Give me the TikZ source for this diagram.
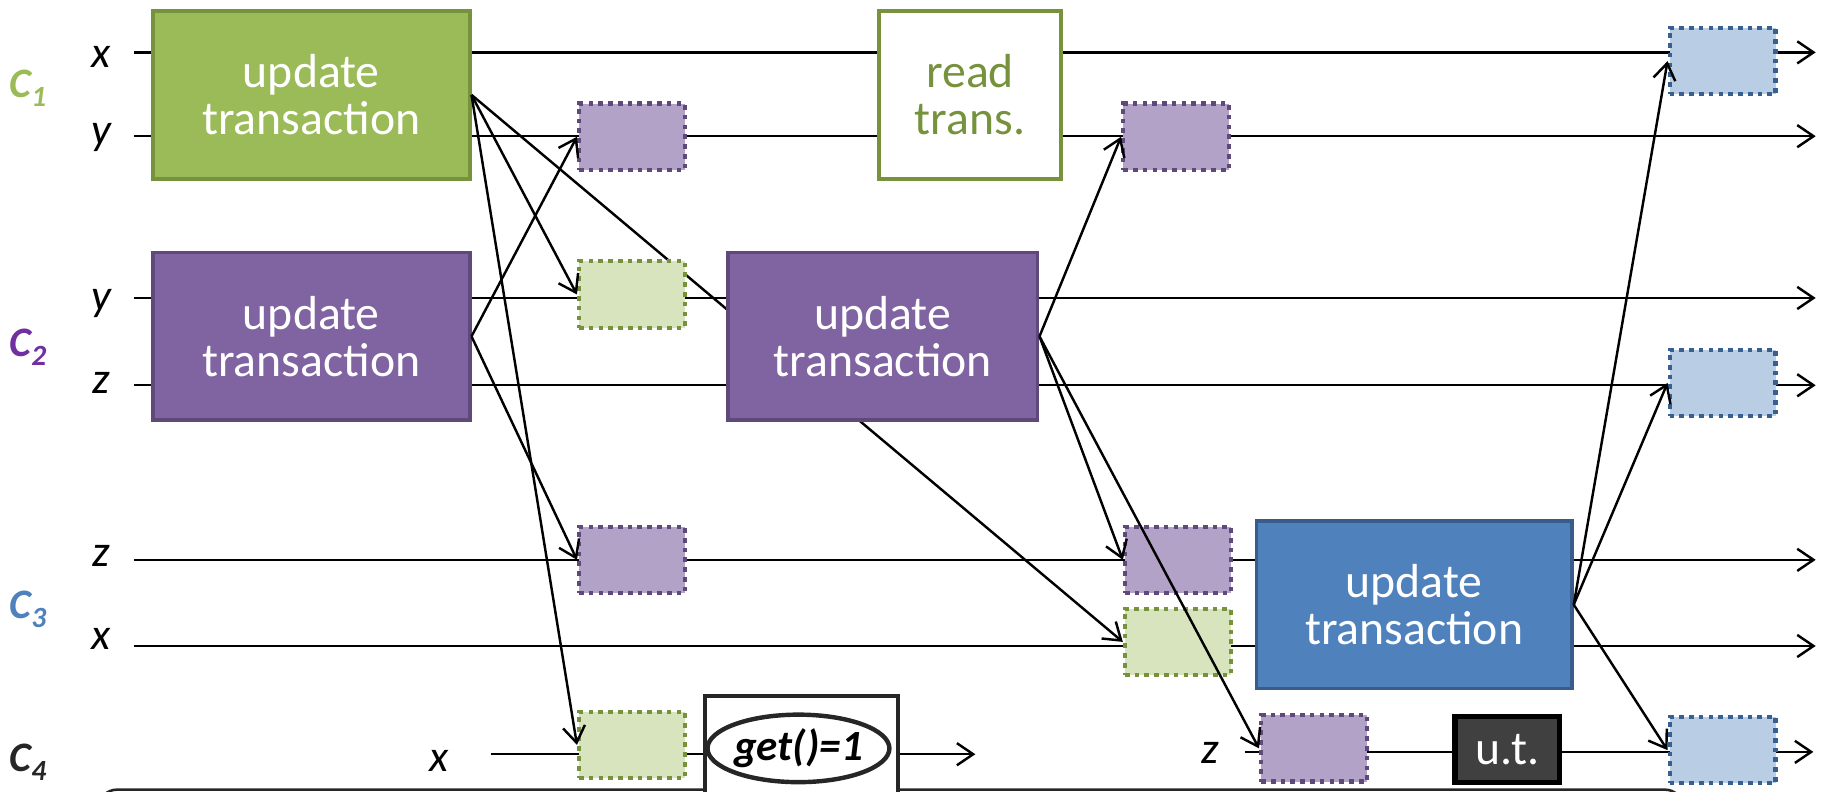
\documentclass[tikz,border=0pt]{standalone}
\usepackage{fontspec}
\setmainfont{Carlito}
\usetikzlibrary{arrows.meta,backgrounds,shapes.geometric}

\definecolor{grnfill}{HTML}{9BBB59}
\definecolor{grnline}{HTML}{76923C}
\definecolor{grnlite}{HTML}{D7E4BD}
\definecolor{purfill}{HTML}{8064A2}
\definecolor{purline}{HTML}{5F497A}
\definecolor{purlite}{HTML}{B3A2C7}
\definecolor{purlab}{HTML}{7030A0}
\definecolor{blufill}{HTML}{4F81BD}
\definecolor{bluline}{HTML}{385D8A}
\definecolor{blulite}{HTML}{B9CDE5}
\definecolor{bludot}{HTML}{376092}
\definecolor{utfill}{HTML}{404040}
\definecolor{darkln}{HTML}{262626}

\begin{document}
\begin{tikzpicture}[x=1pt,y=1pt,yscale=-1,xscale=1,
	bigbox/.style={draw,line width=3.2pt,minimum width=272pt,minimum height=144pt,inner sep=0pt,align=center,text=white,font=\fontsize{41}{40}\selectfont},
	tinybox/.style={line width=3.6pt,dash pattern=on 4pt off 4.4pt,minimum width=91pt,minimum height=57pt,inner sep=0pt},
	varlbl/.style={anchor=base,inner sep=0pt,font=\fontsize{38}{38}\selectfont\itshape},
	clbl/.style={anchor=base west,inner sep=0pt,font=\fontsize{36}{36}\selectfont\bfseries\itshape},
	msg/.style={line width=2.1pt,-{Straight Barb[length=14pt,width=19pt]}},
	]
	\useasboundingbox (0,0) rectangle (1568,680);
	
	% Text Node
	\node[clbl,text=grnfill] (lc1) at (8,84) {C\textsubscript{1}};
	\node[clbl,text=purlab] (lc2) at (8,306) {C\textsubscript{2}};
	\node[clbl,text=blufill] (lc3) at (8,531) {C\textsubscript{3}};
	\node[clbl,text=darkln] (lc4) at (8,663) {C\textsubscript{4}};
	% Text Node
	\node[varlbl] (l1x) at (87,58) {x};
	\node[varlbl] (l1y) at (87,124) {y};
	\node[varlbl] (l2y) at (87,267) {y};
	\node[varlbl] (l2z) at (87,338) {z};
	\node[varlbl] (l3z) at (87,487) {z};
	\node[varlbl] (l3x) at (87,558) {x};
	\node[varlbl] (l4x) at (377,663) {x};
	\node[varlbl] (l4z) at (1040,656) {z};
	
	%Shape: Rectangle
	\node[bigbox,fill=grnfill,draw=grnline] (upd1) at (267.5,81.5) {update\\transaction};
	\node[bigbox,fill=white,draw=grnline,text=grnline,minimum width=156pt] (rd) at (833.5,81.5) {read\\trans.};
	\node[bigbox,fill=purfill,draw=purline] (upd2) at (267.5,289) {update\\transaction};
	\node[bigbox,fill=purfill,draw=purline,minimum width=266pt] (upd3) at (758.5,289) {update\\transaction};
	\node[bigbox,fill=blufill,draw=bluline,minimum width=271pt] (upd4) at (1215,519.5) {update\\transaction};
	\node[draw=black,fill=utfill,line width=4.5pt,minimum width=90pt,minimum height=57pt,inner sep=0pt,text=white,font=\fontsize{41}{40}\selectfont] (ut) at (1295,644) {u.t.};
	
	%Shape: Rectangle (dotted)
	\node[tinybox,fill=purlite,draw=purline] (sp1) at (543,117.5) {};
	\node[tinybox,fill=grnlite,draw=grnline] (sg1) at (543,253) {};
	\node[tinybox,fill=purlite,draw=purline] (sp3) at (543,481) {};
	\node[tinybox,fill=grnlite,draw=grnline] (sg3) at (543,640) {};
	\node[tinybox,fill=purlite,draw=purline] (sp2) at (1010.5,117.5) {};
	\node[tinybox,fill=purlite,draw=purline] (sp4) at (1012,481) {};
	\node[tinybox,fill=grnlite,draw=grnline] (sg2) at (1012,551.5) {};
	\node[tinybox,fill=purlite,draw=purline] (sp5) at (1129,643) {};
	\node[tinybox,fill=blulite,draw=bludot] (sb1) at (1480,52.5) {};
	\node[tinybox,fill=blulite,draw=bludot] (sb2) at (1480,329) {};
	\node[tinybox,fill=blulite,draw=bludot] (sb3) at (1480,644.5) {};
	
	%Shape: get box and ellipse
	\node[draw=darkln,fill=white,line width=3.4pt,minimum width=166pt,minimum height=102pt,inner sep=0pt] (gbox) at (688.5,649) {};
	\node[draw=darkln,fill=white,ellipse,line width=3.8pt,minimum width=142pt,minimum height=58pt,inner sep=0pt,font=\fontsize{37}{37}\selectfont\bfseries\itshape] (get) at (686,643) {get()=1};
	
	%Straight Lines (time lines)
	\coordinate (c1xa) at (115,45);  \coordinate (c1xb) at (1560,45);
	\coordinate (c1ya) at (115,117); \coordinate (c1yb) at (1560,117);
	\coordinate (c2ya) at (115,256); \coordinate (c2yb) at (1560,256);
	\coordinate (c2za) at (115,331); \coordinate (c2zb) at (1560,331);
	\coordinate (c3za) at (115,481); \coordinate (c3zb) at (1560,481);
	\coordinate (c3xa) at (115,555); \coordinate (c3xb) at (1560,555);
	\coordinate (c4xa) at (422,648); \coordinate (c4xb) at (838,648);
	\coordinate (c4za) at (1070,646); \coordinate (c4zb) at (1558,646);
	\begin{scope}[on background layer]
		\draw[msg] (c1xa) -- (c1xb);
		\draw[msg] (c1ya) -- (c1yb);
		\draw[msg] (c2ya) -- (c2yb);
		\draw[msg] (c2za) -- (c2zb);
		\draw[msg] (c3za) -- (c3zb);
		\draw[msg] (c3xa) -- (c3xb);
		\draw[msg] (c4xa) -- (c4xb);
		\draw[msg] (c4za) -- (c4zb);
		% runs behind the middle update box
		\draw[msg] (upd1.east) -- (sg2.west);
		%Rounded Rect (frame below)
		\draw[line width=2.2pt,draw=darkln,rounded corners=14pt] (86,678.5) rectangle (1445,760);
	\end{scope}
	
	%Straight Lines (messages)
	\draw[msg] (upd1.east) -- (sg1.west);
	\draw[msg] (upd1.east) -- (sg3.west);
	\draw[msg] (upd2.east) -- (sp1.west);
	\draw[msg] (upd2.east) -- (sp3.west);
	\draw[msg] (upd3.east) -- (sp2.west);
	\draw[msg] (upd3.east) -- (sp4.west);
	\draw[msg] (upd3.east) -- (sp5.west);
	\draw[msg] (upd4.east) -- (sb1.west);
	\draw[msg] (upd4.east) -- (sb2.west);
	\draw[msg] (upd4.east) -- (sb3.west);
	
\end{tikzpicture}
\end{document}
